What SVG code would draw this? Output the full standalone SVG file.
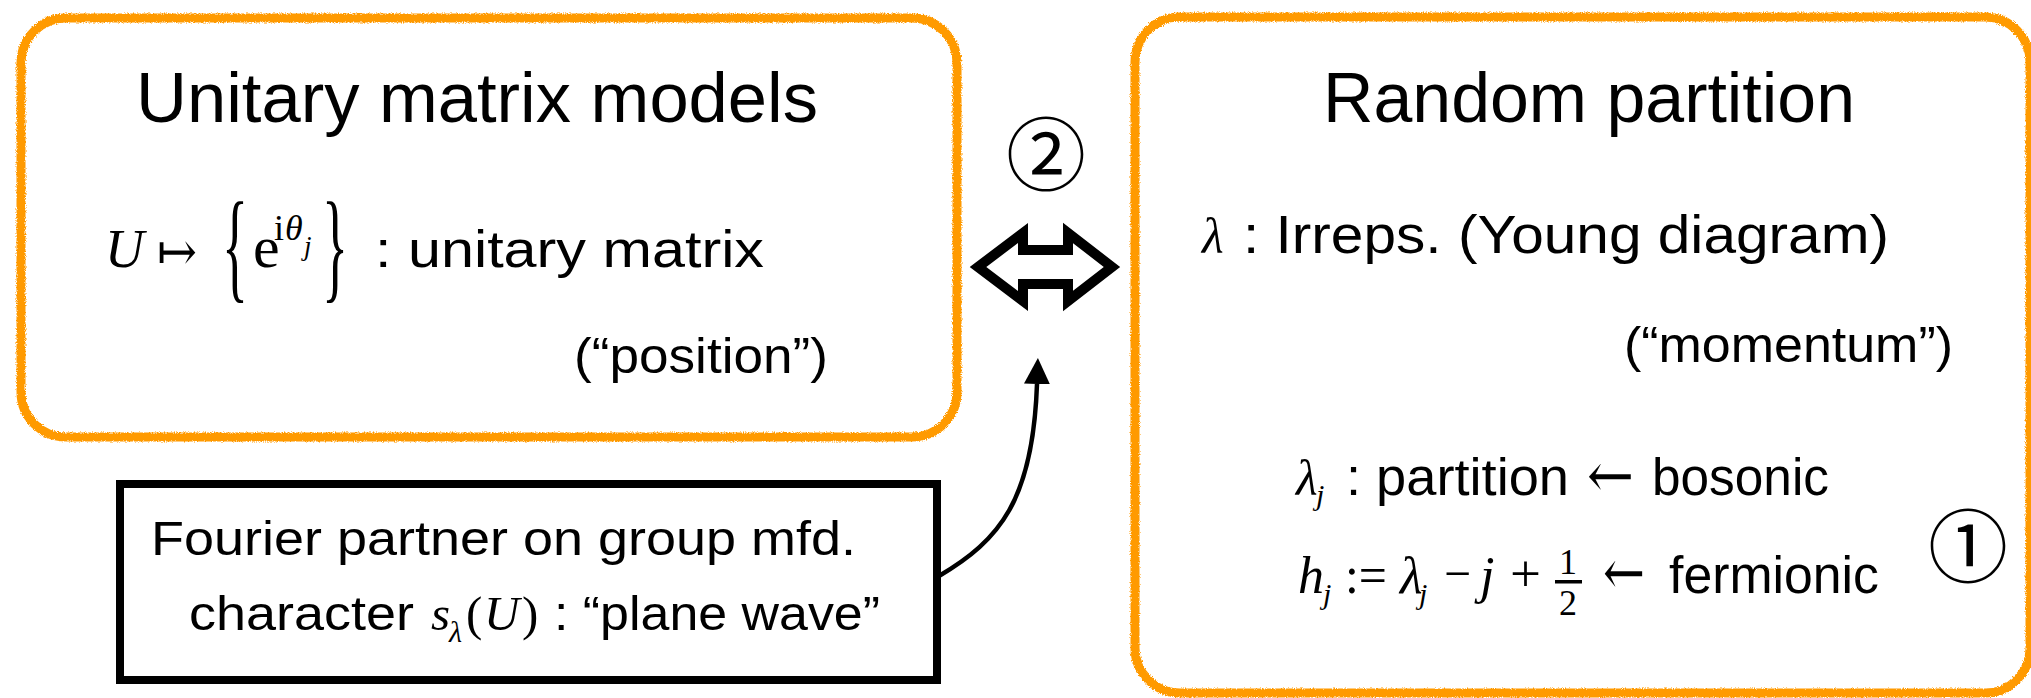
<svg xmlns="http://www.w3.org/2000/svg" width="2031" height="698" viewBox="0 0 2031 698">
<style>
.bg{fill:#ffffff}
.obox{fill:none;stroke:#FF9A00;stroke-width:9;filter:url(#rough)}
.kbox{fill:#ffffff;stroke:#000;stroke-width:8}
.sans{font-family:"Liberation Sans","Noto Sans",sans-serif;fill:#000}
.ser{font-family:"Liberation Serif","DejaVu Serif",serif;fill:#000}
.dj{font-family:"DejaVu Serif",serif;fill:#000}
.it{font-style:italic}
.cjk{font-family:"Noto Sans CJK JP","DejaVu Sans",sans-serif;fill:#000}
.conn{fill:none;stroke:#000;stroke-width:4.5}
</style>
<defs>
<filter id="rough" x="-3%" y="-3%" width="106%" height="106%">
<feTurbulence type="fractalNoise" baseFrequency="0.9" numOctaves="2" seed="3" result="n"/>
<feDisplacementMap in="SourceGraphic" in2="n" scale="4" xChannelSelector="R" yChannelSelector="G"/>
</filter>
<marker id="ah" markerUnits="userSpaceOnUse" viewBox="0 0 26 26" refX="0" refY="13" markerWidth="26" markerHeight="26" orient="auto">
<path d="M0,0 L26,13 L0,26 Z" fill="#000"/>
</marker>
</defs>
<rect class="bg" x="0" y="0" width="2031" height="698"/>

<g id="node-unitary">
<rect class="obox" x="21" y="18" width="936" height="419" rx="45"/>
<text class="sans" x="136" y="122" font-size="70" textLength="682" lengthAdjust="spacingAndGlyphs">Unitary matrix models</text>
<text class="ser it" x="105" y="267" font-size="54">U</text>
<text class="dj" x="157" y="270" font-size="54" textLength="40" lengthAdjust="spacingAndGlyphs">↦</text>
<text class="ser" x="222" y="287" font-size="123" textLength="26" lengthAdjust="spacingAndGlyphs">{</text>
<text class="ser" x="253" y="267" font-size="60">e</text>
<text class="ser" x="274" y="240" font-size="36">i</text>
<text class="ser it" x="285" y="240" font-size="36">θ</text>
<text class="ser it" x="304" y="255" font-size="27">j</text>
<text class="ser" x="322" y="287" font-size="123" textLength="26" lengthAdjust="spacingAndGlyphs">}</text>
<text class="sans" x="375" y="267" font-size="52" textLength="389" lengthAdjust="spacingAndGlyphs">: unitary matrix</text>
<text class="sans" x="574" y="373" font-size="50" textLength="254" lengthAdjust="spacingAndGlyphs">(“position”)</text>
</g>

<g id="node-partition">
<rect class="obox" x="1135" y="17" width="895" height="676" rx="45"/>
<text class="sans" x="1323" y="122" font-size="70" textLength="532" lengthAdjust="spacingAndGlyphs">Random partition</text>
<text class="ser it" x="1202" y="253" font-size="50">λ</text>
<text class="sans" x="1243" y="253" font-size="53" textLength="646" lengthAdjust="spacingAndGlyphs">: Irreps. (Young diagram)</text>
<text class="sans" x="1624" y="362" font-size="50" textLength="329" lengthAdjust="spacingAndGlyphs">(“momentum”)</text>
<text class="ser it" x="1296" y="495" font-size="50">λ</text>
<text class="ser it" x="1316" y="505" font-size="30">j</text>
<text class="sans" x="1346" y="495" font-size="51" textLength="223" lengthAdjust="spacingAndGlyphs">: partition</text>
<text class="dj" x="1587" y="497" font-size="62" textLength="47" lengthAdjust="spacingAndGlyphs">←</text>
<text class="sans" x="1652" y="495" font-size="51" textLength="177" lengthAdjust="spacingAndGlyphs">bosonic</text>
<text class="ser it" x="1298" y="593" font-size="52">h</text>
<text class="ser it" x="1323" y="604" font-size="30">j</text>
<text class="ser" x="1345" y="593" font-size="52" textLength="42" lengthAdjust="spacingAndGlyphs">:=</text>
<text class="ser it" x="1400" y="593" font-size="52">λ</text>
<text class="ser it" x="1419" y="604" font-size="30">j</text>
<text class="ser" x="1444" y="591" font-size="52" textLength="27" lengthAdjust="spacingAndGlyphs">−</text>
<text class="ser it" x="1480" y="593" font-size="52">j</text>
<text class="ser" x="1510" y="591" font-size="52" textLength="31" lengthAdjust="spacingAndGlyphs">+</text>
<text class="ser" x="1568" y="574" font-size="36" text-anchor="middle">1</text>
<rect x="1555" y="580" width="27" height="3.5" fill="#000"/>
<text class="ser" x="1568" y="615" font-size="36" text-anchor="middle">2</text>
<text class="dj" x="1603" y="594" font-size="62" textLength="42" lengthAdjust="spacingAndGlyphs">←</text>
<text class="sans" x="1669" y="593" font-size="51" textLength="210" lengthAdjust="spacingAndGlyphs">fermionic</text>
<text class="cjk" x="1968" y="576" font-size="80" text-anchor="middle">①</text>
</g>

<g id="node-fourier">
<rect class="kbox" x="120" y="484" width="817" height="196"/>
<text class="sans" x="151" y="555" font-size="49" textLength="705" lengthAdjust="spacingAndGlyphs">Fourier partner on group mfd.</text>
<text class="sans" x="189" y="630" font-size="49" textLength="225" lengthAdjust="spacingAndGlyphs">character</text>
<text class="ser it" x="431" y="630" font-size="49">s</text>
<text class="ser it" x="449" y="642" font-size="30">λ</text>
<text class="ser" x="466" y="630" font-size="49">(</text>
<text class="ser it" x="484" y="630" font-size="49">U</text>
<text class="ser" x="522" y="630" font-size="49">)</text>
<text class="sans" x="554" y="630" font-size="49" textLength="326" lengthAdjust="spacingAndGlyphs">: “plane wave”</text>
</g>

<g id="node-equiv">
<text class="cjk" x="1046" y="184" font-size="80" text-anchor="middle">②</text>
<path d="M978 267 L1023 233 L1023 250 L1068 250 L1068 233 L1112 267 L1068 301 L1068 284 L1023 284 L1023 301 Z" fill="#fff" stroke="#000" stroke-width="10" stroke-linejoin="miter"/>
</g>

<g id="connectors">
<path class="conn" d="M939 576 C1000 540 1033 500 1037 384" marker-end="url(#ah)"/>
</g>
</svg>
